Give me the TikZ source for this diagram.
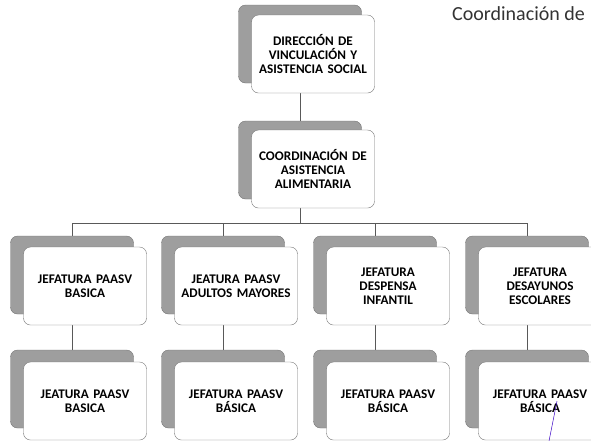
\documentclass[tikz,border=0pt]{standalone}
\usepackage{fontspec}
\setmainfont{Carlito}
\usetikzlibrary{positioning, calc, backgrounds}

\begin{document}
\begin{tikzpicture}[x=1pt, y=-1pt,
    back/.style={rectangle, rounded corners=7pt, draw=black!55, fill=black!38,
      minimum width=123pt, minimum height=78pt, inner sep=0pt},
    front/.style={rectangle, rounded corners=7pt, draw=black!55, fill=white,
      minimum width=123pt, minimum height=78pt, inner sep=2pt, text width=117pt,
      align=center, font=\fontsize{13.2}{14.2}\selectfont\bfseries},
    link/.style={draw=black!65, line width=0.6pt}]
  \path[use as bounding box, clip] (0,0) rectangle (591,440);

  % upper levels
  \node[back] (dir-back) at (300,44) {};
  \node[front] (dir) at ($(dir-back)+(13,10)$) {DIRECCIÓN DE\\VINCULACIÓN Y\\ASISTENCIA SOCIAL};
  \node[back] (coord-back) at (300,160) {};
  \node[front] (coord) at ($(coord-back)+(13,9)$) {COORDINACIÓN DE\\ASISTENCIA\\ALIMENTARIA};

  % jefaturas
  \node[back] (j1-back) at (72,275) {};
  \node[front] (j1) at ($(j1-back)+(13,11)$) {JEFATURA PAASV\\BASICA};
  \node[back] (j2-back) at (223,275) {};
  \node[front] (j2) at ($(j2-back)+(13,11)$) {JEATURA PAASV\\ADULTOS MAYORES};
  \node[back] (j3-back) at (375,275) {};
  \node[front] (j3) at ($(j3-back)+(13,11)$) {JEFATURA\\DESPENSA\\INFANTIL};
  \node[back] (j4-back) at (527,275) {};
  \node[front] (j4) at ($(j4-back)+(13,11)$) {JEFATURA\\DESAYUNOS\\ESCOLARES};

  % basica
  \node[back] (b1-back) at (72,389) {};
  \node[front] (b1) at ($(b1-back)+(13,12)$) {JEATURA PAASV\\BASICA};
  \node[back] (b2-back) at (223,389) {};
  \node[front] (b2) at ($(b2-back)+(13,12)$) {JEFATURA PAASV\\BÁSICA};
  \node[back] (b3-back) at (375,389) {};
  \node[front] (b3) at ($(b3-back)+(13,12)$) {JEFATURA PAASV\\BÁSICA};
  \node[back] (b4-back) at (527,389) {};
  \node[front] (b4) at ($(b4-back)+(13,12)$) {JEFATURA PAASV\\BÁSICA};

  \node[anchor=base west, inner sep=0pt, text=black!80,
    font=\fontsize{20}{24}\selectfont] (title) at (452,20) {Coordinación de};

  % stray pen mark
  \coordinate (pen-a) at (549,441);
  \coordinate (pen-b) at (557,401);
  \draw[blue!55!violet, line width=0.5pt] (pen-a) -- (pen-b);

  \begin{scope}[on background layer]
    \coordinate (bus) at (300,223);
    \draw[link] (dir-back.center) -- (coord-back.center);
    \draw[link] (coord-back.center) -- (bus);
    \foreach \j/\b in {j1/b1, j2/b2, j3/b3, j4/b4} {
      \draw[link] (bus) -| (\j-back.center);
      \draw[link] (\j-back.center) -- (\b-back.center);
    }
  \end{scope}
\end{tikzpicture}
\end{document}
